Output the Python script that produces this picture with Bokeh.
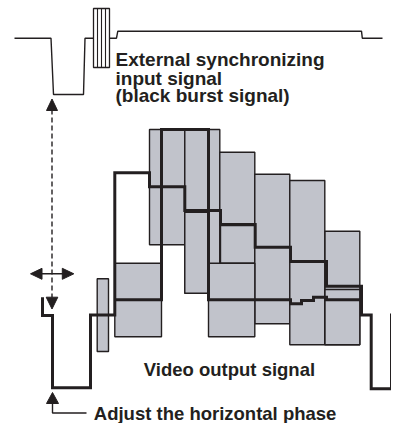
from bokeh.plotting import figure
from bokeh.models import Range1d
from bokeh.core.properties import value
from bokeh.embed import file_html
from bokeh.resources import INLINE

INK = "#231f20"
GRAY = "#c1c3cb"

# External synchronizing (black burst) signal trace
sync_x = [14, 50.5, 53, 83, 84.5, 93]
sync_y = [37.7, 37.7, 94, 94, 37.7, 37.7]
sync2_x = [109, 116, 117.3, 361, 361.8, 382]
sync2_y = [37.7, 37.7, 30.7, 30.7, 37.7, 37.7]

# burst block
burst_left, burst_right, burst_top, burst_bottom = 93, 109, 8, 67
burst_lines_x = [97, 101, 105]

# gray ringing blocks (drawn in order)
box_left   = [96.7, 114.3, 149, 184.3, 184.3, 219.3, 220, 254.3, 289.3, 324.5, 324.5, 208, 398.3]
box_right  = [108,  161,   184.3, 219.3, 208, 254.3, 254.3, 289.3, 324.3, 359.3, 359.3, 254.3, 415]
box_top    = [278.3, 262.7, 129, 129, 211.7, 151.7, 225, 173.7, 180, 230.7, 289, 262.7, 278.3]
box_bottom = [351, 336.3, 244.3, 292.7, 292.7, 262.7, 262.7, 323.3, 344.3, 344.3, 344.3, 336.3, 351]

# video output signal traces
trace_a_x = [42, 42, 52, 52, 90, 90, 114.3, 114.3, 149, 149, 184.3, 184.3, 220, 220,
             254.7, 254.7, 290, 290, 326, 326, 361, 361, 370.7, 370.7, 391, 391, 410]
trace_a_y = [296.7, 315, 315, 387.3, 387.3, 314.5, 314.5, 172.3, 172.3, 186.3, 186.3, 210,
             210, 224, 224, 246.7, 246.7, 261, 261, 285.7, 285.7, 314.5, 314.5, 388.3,
             388.3, 314.5, 314.5]
trace_b_x = [114.3, 161, 161, 208, 208, 290, 290, 301, 301, 313, 313, 326, 326, 361]
trace_b_y = [299.3, 299.3, 129, 129, 299.3, 299.3, 303.3, 303.3, 300, 300, 296.7,
             296.7, 299.3, 299.3]

labels = ["External synchronizing", "input signal", "(black burst signal)",
          "Video output signal", "Adjust the horizontal phase"]
label_x = [115, 115, 115, 143.3, 93.3]
label_y = [59.2, 77.5, 95.2, 368.5, 412.5]

p = figure(width=391, height=423, output_backend="svg", toolbar_location=None,
           x_range=Range1d(0, 391), y_range=Range1d(423, 0), min_border=0)
p.axis.visible = False
p.grid.visible = False
p.outline_line_color = None
p.background_fill_color = "white"
p.border_fill_color = "white"

# top signal
p.line(sync_x, sync_y, line_color=INK, line_width=1.4)
p.line(sync2_x, sync2_y, line_color=INK, line_width=1.4)
p.quad(left=[burst_left], right=[burst_right], top=[burst_top], bottom=[burst_bottom],
       fill_color="white", line_color=INK, line_width=1.3)
p.segment(x0=burst_lines_x, y0=[burst_top] * 3, x1=burst_lines_x, y1=[burst_bottom] * 3,
          line_color=INK, line_width=1.1)

# gray blocks
p.quad(left=box_left, right=box_right, top=box_top, bottom=box_bottom,
       fill_color=GRAY, line_color=INK, line_width=1.4)

# thick traces
p.line(trace_b_x, trace_b_y, line_color=INK, line_width=3, line_join="miter")
p.line(trace_a_x, trace_a_y, line_color=INK, line_width=3, line_join="miter")

# dashed vertical double arrow
p.line([51.5, 51.5], [109, 297], line_color=INK, line_width=1.4, line_dash="5 3")
p.patch([51.5, 46, 57], [98.5, 110, 110], fill_color=INK, line_color=INK, line_width=1)
p.patch([51.5, 45.7, 57.3], [308.5, 296.7, 296.7], fill_color=INK, line_color=INK, line_width=1)

# horizontal double arrow
p.line([38, 66], [273.3, 273.3], line_color=INK, line_width=1.6)
p.patch([30, 41.5, 41.5], [273.3, 267.8, 278.8], fill_color=INK, line_color=INK, line_width=1)
p.patch([73.3, 61.8, 61.8], [273.3, 267.8, 278.8], fill_color=INK, line_color=INK, line_width=1)

# phase adjust pointer
p.patch([52, 46, 58], [392, 403, 403], fill_color=INK, line_color=INK, line_width=1)
p.line([52, 52, 86], [402, 412.5, 412.5], line_color=INK, line_width=1.4)

# labels
p.text(x=label_x[:3], y=label_y[:3], text=labels[:3], text_font=value("Liberation Sans"),
       text_font_style="bold", text_font_size="19px", text_color=INK,
       text_baseline="alphabetic", text_align="left")
p.text(x=label_x[3:], y=label_y[3:], text=labels[3:], text_font=value("Liberation Sans"),
       text_font_style="bold", text_font_size="18.5px", text_color=INK,
       text_baseline="alphabetic", text_align="left")

open("out.html", "w").write(file_html(p, INLINE))
